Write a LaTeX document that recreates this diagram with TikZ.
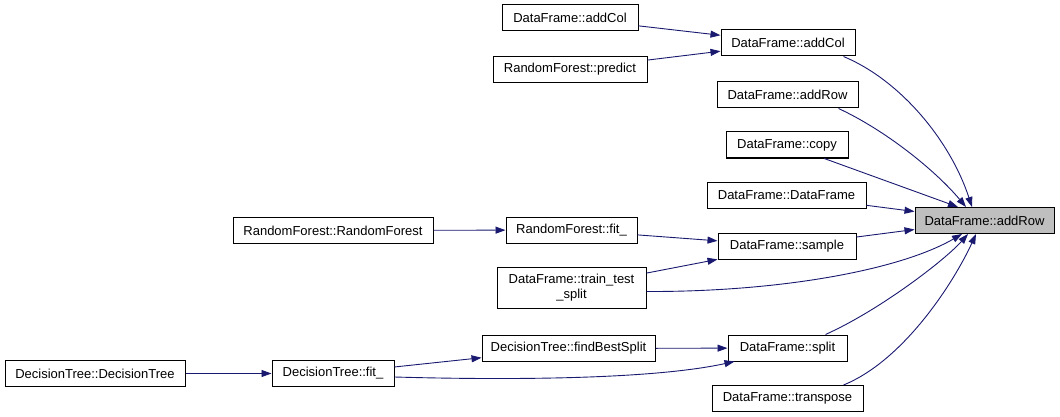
\documentclass[tikz,border=0pt]{standalone}
\usepackage{fontspec}
\setmainfont{Liberation Sans}
\usepackage{tikz}
\usetikzlibrary{arrows.meta}
\definecolor{edgeblue}{HTML}{191970}
\definecolor{callgray}{HTML}{BFBFBF}

\begin{document}
\begin{tikzpicture}[
  x=1pt, y=-1pt,
  fnbox/.style={rectangle, draw=black, fill=white, line width=1pt, inner sep=0pt,
                minimum height=26pt, align=center, font=\fontsize{13}{15}\selectfont},
  hlbox/.style={fnbox, fill=callgray},
  arr/.style={-{Triangle[length=10pt, width=7pt]}, line width=0.9pt, color=edgeblue}
]
  \useasboundingbox (0,0) rectangle (1060,417);

  % the called function
  \node[hlbox, minimum width=139pt] (target) at (984.5,220.5) {DataFrame::addRow};

  % direct callers
  \node[fnbox, minimum width=134pt] (addcolb)   at (788,43)    {DataFrame::addCol};
  \node[fnbox, minimum width=141pt] (addrowb)   at (787.5,95)  {DataFrame::addRow};
  \node[fnbox, minimum width=122pt] (copy)      at (787,145)   {DataFrame::copy};
  \node[fnbox, minimum width=159pt] (dfctor)    at (786.5,195) {DataFrame::DataFrame};
  \node[fnbox, minimum width=138pt] (sample)    at (787,246)   {DataFrame::sample};
  \node[fnbox, minimum width=119pt] (split)     at (787.5,348) {DataFrame::split};
  \node[fnbox, minimum width=151pt] (transpose) at (787.5,398.5) {DataFrame::transpose};

  % second level
  \node[fnbox, minimum width=136pt] (addcola)   at (570,18)    {DataFrame::addCol};
  \node[fnbox, minimum width=154pt] (predict)   at (570,69.5)  {RandomForest::predict};
  \node[fnbox, minimum width=131pt] (rffit)     at (571.5,230) {RandomForest::fit\_};
  \node[fnbox, minimum width=149pt, minimum height=41pt] (traintest) at (571.5,287.5)
       {DataFrame::train\_test\\\_split};
  \node[fnbox, minimum width=173pt] (bestsplit) at (568.5,348.5) {DecisionTree::findBestSplit};

  % third and fourth level
  \node[fnbox, minimum width=200pt] (rfctor)    at (333,230.5) {RandomForest::RandomForest};
  \node[fnbox, minimum width=122pt] (dtfit)     at (333,373.5) {DecisionTree::fit\_};
  \node[fnbox, minimum width=180pt] (dtctor)    at (95,373.5)  {DecisionTree::DecisionTree};

  % calls into addRow
  \draw[arr] ([xshift=-12pt]addcolb.south east) .. controls (900,80) and (950,140)
             .. ([xshift=-12.5pt]target.north);
  \draw[arr] ([xshift=-20pt]addrowb.south east) .. controls (885,130) and (935,170)
             .. ([xshift=-18.5pt]target.north);
  \draw[arr] (copy) -- ([xshift=-26.5pt]target.north);
  \draw[arr] (dfctor) -- (target);
  \draw[arr] (sample) -- (target);
  \draw[arr] ([yshift=-4pt]traintest.east) .. controls (780,292) and (900,270)
             .. ([xshift=-22.5pt]target.south);
  \draw[arr] ([xshift=-22pt]split.north east) .. controls (880,310) and (945,260)
             .. ([xshift=-16.5pt]target.south);
  \draw[arr] ([xshift=-20pt]transpose.north east) .. controls (905,360) and (955,280)
             .. ([xshift=-8.5pt]target.south);

  % callers of the callers
  \draw[arr] (addcola) -- (addcolb);
  \draw[arr] (predict) -- (addcolb);
  \draw[arr] (rffit) -- (sample);
  \draw[arr] (traintest) -- (sample);
  \draw[arr] (rfctor) -- (rffit);
  \draw[arr] (bestsplit) -- (split);
  \draw[arr] (dtfit) -- (bestsplit);
  \draw[arr] ([yshift=-3.5pt]dtfit.east) .. controls (500,380) and (650,380)
             .. ([xshift=7pt]split.south west);
  \draw[arr] (dtctor) -- (dtfit);
\end{tikzpicture}
\end{document}
